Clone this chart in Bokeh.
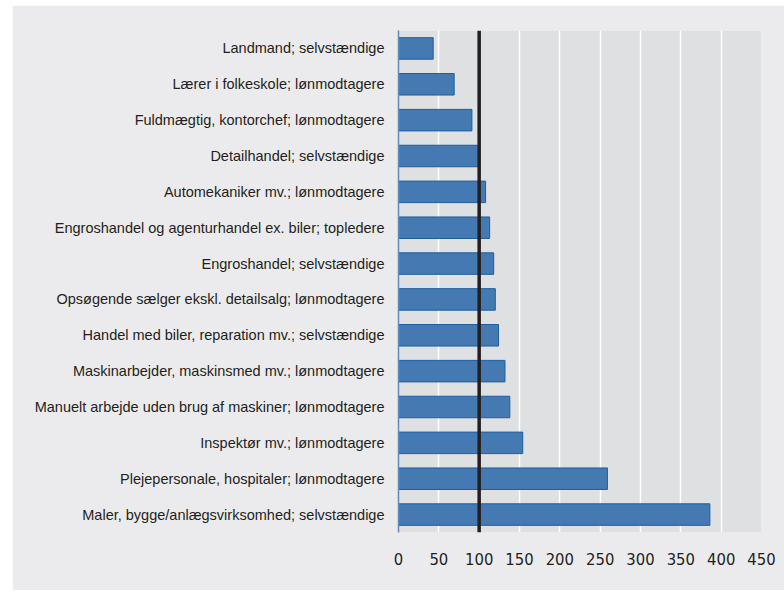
from bokeh.plotting import figure
from bokeh.models import FactorRange, Range1d, Span, FixedTicker, ColumnDataSource
from bokeh.embed import file_html
from bokeh.resources import INLINE

categories = [
    "Landmand; selvstændige",
    "Lærer i folkeskole; lønmodtagere",
    "Fuldmægtig, kontorchef; lønmodtagere",
    "Detailhandel; selvstændige",
    "Automekaniker mv.; lønmodtagere",
    "Engroshandel og agenturhandel ex. biler; topledere",
    "Engroshandel; selvstændige",
    "Opsøgende sælger ekskl. detailsalg; lønmodtagere",
    "Handel med biler, reparation mv.; selvstændige",
    "Maskinarbejder, maskinsmed mv.; lønmodtagere",
    "Manuelt arbejde uden brug af maskiner; lønmodtagere",
    "Inspektør mv.; lønmodtagere",
    "Plejepersonale, hospitaler; lønmodtagere",
    "Maler, bygge/anlægsvirksomhed; selvstændige",
]
values = [43, 69, 91, 99, 108, 113, 118, 120, 124, 132, 138, 154, 259, 386]
x_ticks = [0, 50, 100, 150, 200, 250, 300, 350, 400, 450]
reference_value = 100

source = ColumnDataSource(data=dict(cat=categories, val=values))

p = figure(
    width=772, height=585,
    y_range=FactorRange(factors=list(reversed(categories)), range_padding=0),
    x_range=Range1d(0, 450),
    output_backend="svg", toolbar_location=None,
    min_border_left=386, min_border_right=23, min_border_top=25, min_border_bottom=58,
)
p.styles = {"margin-left": "12px", "margin-top": "5px"}
p.border_fill_color = "#ebebed"
p.background_fill_color = "#dfe0e2"
p.outline_line_color = None

p.hbar(y="cat", right="val", left=0, height=0.6, source=source,
       fill_color="#4579b1", line_color="#1d5e9f", line_width=1)

p.add_layout(Span(location=reference_value, dimension="height",
                  line_color="#231f20", line_width=3.5))

p.xaxis.ticker = FixedTicker(ticks=x_ticks)
p.xaxis.axis_line_color = None
p.xaxis.major_tick_line_color = None
p.xaxis.major_tick_out = 0
p.xaxis.minor_tick_line_color = None
p.xaxis.major_label_standoff = 20
p.xaxis.major_label_text_font = "DejaVu Sans Condensed, Open Sans"
p.xaxis.major_label_text_font_size = "16.5px"
p.xaxis.major_label_text_color = "#231f20"

p.yaxis.axis_line_color = "#5b8dc2"
p.yaxis.axis_line_width = 1.5
p.yaxis.major_tick_line_color = None
p.yaxis.major_tick_out = 0
p.yaxis.minor_tick_line_color = None
p.yaxis.major_label_standoff = 14
p.yaxis.major_label_text_font = "Liberation Sans"
p.yaxis.major_label_text_font_size = "14.5px"
p.yaxis.major_label_text_color = "#231f20"

p.xgrid.grid_line_color = "white"
p.xgrid.grid_line_width = 1.5
p.ygrid.grid_line_color = None

open("out.html", "w").write(file_html(p, INLINE))
